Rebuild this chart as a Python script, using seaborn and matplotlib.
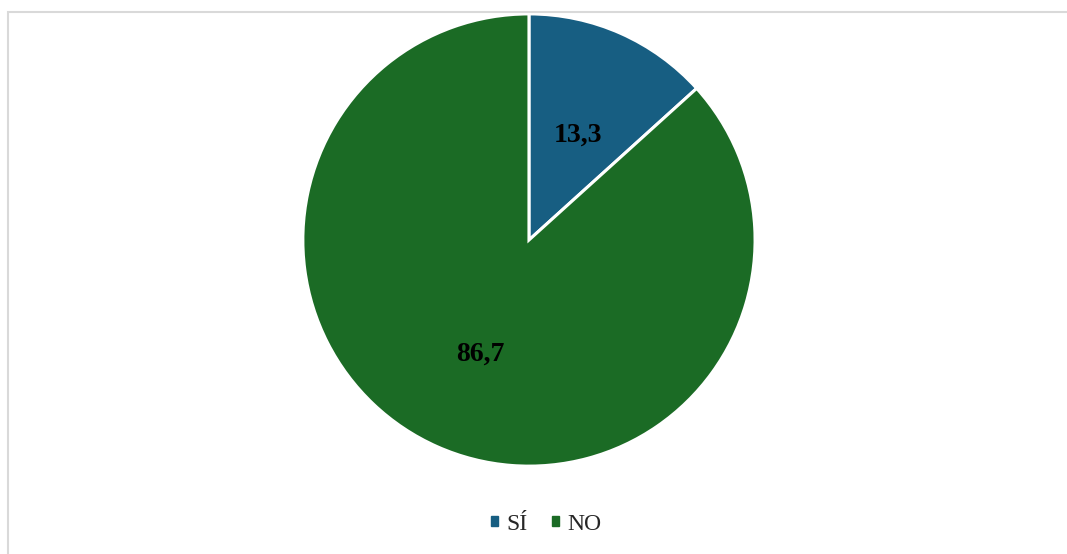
import matplotlib
matplotlib.use("Agg")
import matplotlib.pyplot as plt
import matplotlib.patches as mpatches
import matplotlib.transforms as mtransforms
import seaborn as sns

categories = ["SÍ", "NO"]
values = [13.3, 86.7]
colors = ["#175E82", "#1B6B25"]

sns.set_theme(style="white")
plt.rcParams['font.family'] = ['Liberation Serif', 'DejaVu Serif']

fig = plt.figure(figsize=(10.67, 5.54), dpi=100)
ax = fig.add_axes([0.2849, 0.1606, 0.4217, 0.8123])

labels_txt = iter([f"{v:.1f}".replace(".", ",") for v in values])
wedges, texts, autotexts = ax.pie(
    values, colors=colors, startangle=90, counterclock=False,
    autopct=lambda p: next(labels_txt), pctdistance=0.53,
    wedgeprops=dict(edgecolor="white", linewidth=2.2),
    textprops=dict(fontsize=20, fontweight="bold", color="black"),
)
offset = mtransforms.ScaledTranslation(0, -5/100, fig.dpi_scale_trans)
for t in autotexts:
    t.set_transform(t.get_transform() + offset)
ax.set_xlim(-0.995, 0.995)
ax.set_ylim(-0.995, 0.995)
ax.set_aspect("equal")

handles = [mpatches.Patch(color=c, label=l) for c, l in zip(colors, categories)]
fig.legend(handles=handles, loc="center", bbox_to_anchor=(546/1067, 1 - 524/554),
           ncol=2, frameon=False, fontsize=17, handlelength=0.3, handleheight=0.3,
           handletextpad=0.35, columnspacing=1.05)

border = mpatches.Rectangle((8/1067, -0.1), 1.2, (554-12)/554 + 0.1,
                            transform=fig.transFigure, fill=False,
                            edgecolor="#D9D9D9", linewidth=1.5)
fig.patches.append(border)

fig.savefig("out.png", dpi=100, facecolor="white")
